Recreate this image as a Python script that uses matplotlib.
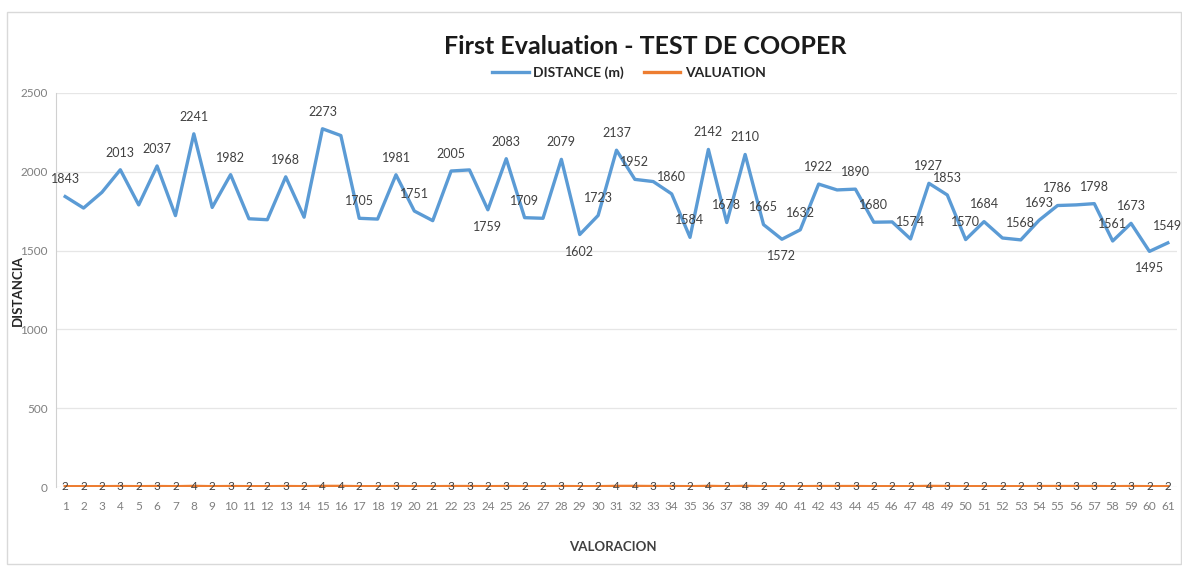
import matplotlib.pyplot as plt
from matplotlib.patches import Rectangle

plt.rcParams['font.family'] = ['Lato', 'DejaVu Sans']

# data
tests = list(range(1, 62))
distance = [1843, 1770, 1870, 2013, 1790, 2037, 1722, 2241, 1774, 1982,
            1702, 1696, 1968, 1712, 2273, 2230, 1705, 1700, 1981, 1751,
            1690, 2005, 2012, 1759, 2083, 1709, 1705, 2079, 1602, 1723,
            2137, 1952, 1938, 1860, 1584, 2142, 1678, 2110, 1665, 1572,
            1632, 1922, 1885, 1890, 1680, 1682, 1574, 1927, 1853, 1570,
            1684, 1580, 1568, 1693, 1786, 1790, 1798, 1561, 1673, 1495,
            1549]
valuation = [2, 2, 2, 3, 2, 3, 2, 4, 2, 3, 2, 2, 3, 2, 4, 4, 2, 2, 3, 2,
             2, 3, 3, 2, 3, 2, 2, 3, 2, 2, 4, 4, 3, 3, 2, 4, 2, 4, 2, 2,
             2, 3, 3, 3, 2, 2, 2, 4, 3, 2, 2, 2, 2, 3, 3, 3, 3, 2, 3, 2,
             2]
# which distance points carry a label, and which of them sit below the line
labelled = [1, 4, 6, 8, 10, 13, 15, 17, 19, 20, 22, 24, 25, 26, 28, 29, 30,
            31, 32, 34, 35, 36, 37, 38, 39, 40, 41, 42, 44, 45, 47, 48, 49,
            50, 51, 53, 54, 55, 57, 58, 59, 60, 61]
below = [24, 29, 40, 60]

blue = '#5B9BD5'
orange = '#ED7D31'

fig = plt.figure(figsize=(11.82, 5.67), dpi=100)
fig.patches.append(Rectangle((7 / 1182, 0.005), 1174 / 1182, 1 - 12 / 567 - 0.005,
                             transform=fig.transFigure, fill=False,
                             edgecolor='#d9d9d9', linewidth=1))
ax = fig.add_axes([56 / 1182, 80 / 567, 1121 / 1182, 394 / 567])

ax.plot(tests, distance, color=blue, linewidth=2.4, label='DISTANCE (m)')
ax.plot(tests, valuation, color=orange, linewidth=2.4, label='VALUATION')

for t in labelled:
    v = distance[t - 1]
    if t in below:
        ax.annotate(str(v), (t, v), xytext=(0, -8), textcoords='offset points',
                    ha='center', va='top', fontsize=9, color='#404040')
    else:
        ax.annotate(str(v), (t, v), xytext=(0, 8), textcoords='offset points',
                    ha='center', va='bottom', fontsize=9, color='#404040')

for t, v in zip(tests, valuation):
    ax.text(t, v, str(v), ha='center', va='center', fontsize=8.5, color='#404040')

ax.set_xlim(0.5, 61.5)
ax.set_ylim(0, 2500)
ax.set_yticks(range(0, 2501, 500))
ax.set_xticks(tests)
ax.tick_params(axis='both', length=0, labelsize=8.5, labelcolor='#7f7f7f')
ax.tick_params(axis='y', pad=6)
ax.tick_params(axis='x', pad=10)
ax.grid(axis='y', color='#e6e6e6', linewidth=0.9)
ax.set_axisbelow(True)
for side in ['top', 'right', 'bottom']:
    ax.spines[side].set_visible(False)
ax.spines['left'].set_color('#d0d0d0')

fig.text(18 / 1182, 1 - 291 / 567, 'DISTANCIA', rotation=90, ha='center',
         va='center', fontsize=9.5, fontweight='bold', color='#262626')
fig.text(613 / 1182, 1 - 547 / 567, 'VALORACION', ha='center', va='center',
         fontsize=9.5, fontweight='bold', color='#404040')
fig.text(645 / 1182, 1 - 46 / 567, 'First Evaluation - TEST DE COOPER',
         ha='center', va='center', fontsize=18, fontweight='bold', color='#1a1a1a')

leg = fig.legend(loc='center', bbox_to_anchor=(629 / 1182, 1 - 73 / 567), ncol=2,
                 frameon=False, fontsize=10, handlelength=2.6, handletextpad=0.3,
                 columnspacing=1.5)
for txt in leg.get_texts():
    txt.set_fontweight('bold')
    txt.set_color('#262626')

fig.savefig('out.png', dpi=100)
